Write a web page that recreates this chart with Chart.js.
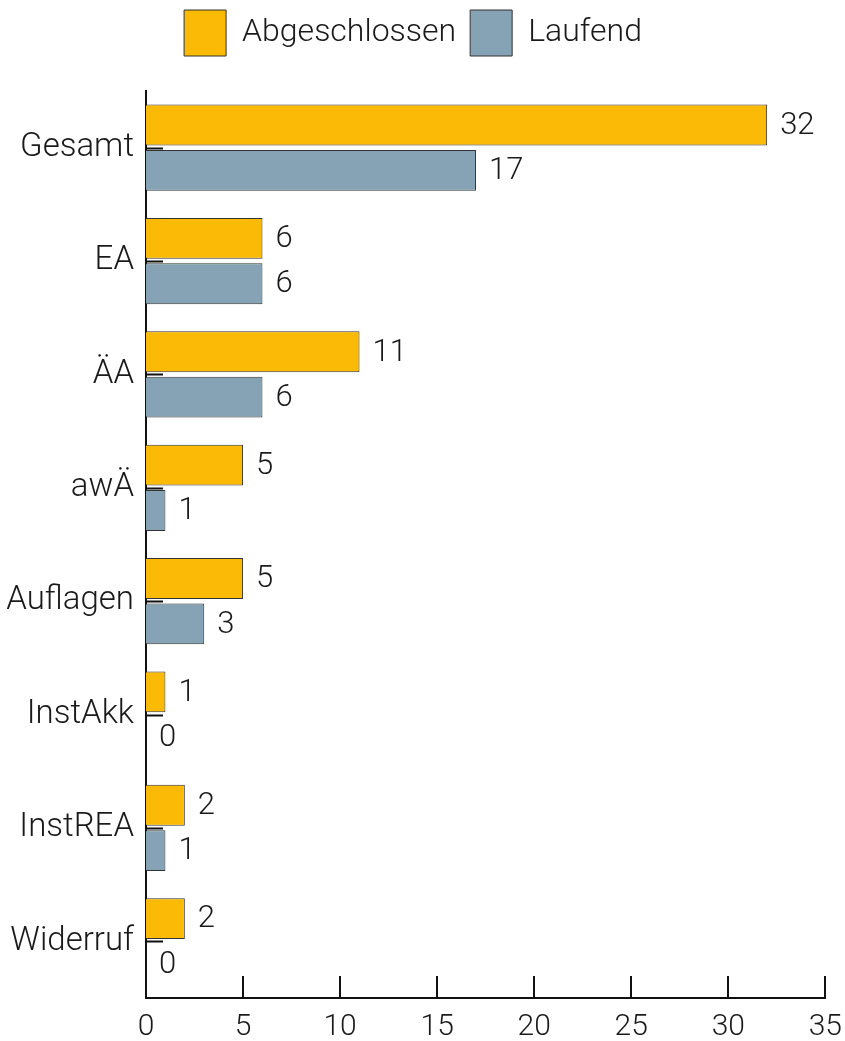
<!DOCTYPE html>
<html>
<head>
<meta charset="utf-8">
<script src="https://cdn.jsdelivr.net/npm/chart.js@4"></script>
<style>
  html, body { margin: 0; padding: 0; background: #fff; }
  #wrap { width: 845px; height: 1041px; position: relative; }
</style>
</head>
<body>
<div id="wrap"><canvas id="chart"></canvas></div>
<script>
// Kategorien und Werte
const categories = ['Gesamt', 'EA', 'ÄA', 'awÄ', 'Auflagen', 'InstAkk', 'InstREA', 'Widerruf'];
const abgeschlossen = [32, 6, 11, 5, 5, 1, 2, 2];
const laufend = [17, 6, 6, 1, 3, 0, 1, 0];
const xTicks = [0, 5, 10, 15, 20, 25, 30, 35];

const FONT = 'Roboto';
const INK = '#1a1a1a';

// Tick-Striche nach innen (ins Diagramm) zeichnen
const innerTicks = {
    id: 'innerTicks',
    beforeDatasetsDraw(chart) {
        const {ctx, chartArea, scales} = chart;
        ctx.save();
        ctx.strokeStyle = '#111';
        ctx.lineWidth = 2;
        ctx.beginPath();
        xTicks.forEach(v => {
            const x = Math.round(scales.x.getPixelForValue(v));
            ctx.moveTo(x, chartArea.bottom);
            ctx.lineTo(x, chartArea.bottom - 22);
        });
        categories.forEach((c, i) => {
            const y = Math.round(scales.y.getPixelForValue(i)) + 0.5;
            ctx.moveTo(chartArea.left, y);
            ctx.lineTo(chartArea.left + 17, y);
        });
        ctx.stroke();
        ctx.restore();
    }
};

// Werte rechts neben den Balken
const valueLabels = {
    id: 'valueLabels',
    afterDatasetsDraw(chart) {
        const {ctx} = chart;
        ctx.save();
        ctx.font = `300 31px ${FONT}`;
        ctx.fillStyle = INK;
        ctx.textAlign = 'left';
        ctx.textBaseline = 'middle';
        chart.data.datasets.forEach((ds, i) => {
            chart.getDatasetMeta(i).data.forEach((bar, j) => {
                ctx.fillText(String(ds.data[j]), bar.x + 13, bar.y + 1);
            });
        });
        ctx.restore();
    }
};

new Chart(document.getElementById('chart'), {
    type: 'bar',
    data: {
        labels: categories,
        datasets: [
            {
                label: 'Abgeschlossen',
                data: abgeschlossen,
                backgroundColor: '#fbba06',
                borderColor: '#333',
                borderWidth: 1,
                categoryPercentage: 0.8,
                barPercentage: 0.9
            },
            {
                label: 'Laufend',
                data: laufend,
                backgroundColor: '#85a3b5',
                borderColor: '#333',
                borderWidth: 1,
                categoryPercentage: 0.8,
                barPercentage: 0.9
            }
        ]
    },
    options: {
        indexAxis: 'y',
        responsive: true,
        maintainAspectRatio: false,
        animation: false,
        layout: {
            padding: {top: -4, right: 19, left: 0, bottom: 0}
        },
        plugins: {
            legend: {
                position: 'top',
                labels: {
                    boxWidth: 42,
                    boxHeight: 46,
                    padding: 14,
                    color: INK,
                    font: {family: FONT, size: 32, weight: '300'}
                }
            },
            // leerer Titel als Abstand zwischen Legende und Diagramm
            title: {
                display: true,
                text: '',
                position: 'top',
                weight: 500,
                font: {size: 1, lineHeight: 1},
                padding: {top: 0, bottom: 24}
            },
            tooltip: {enabled: false}
        },
        scales: {
            x: {
                min: 0,
                max: 35,
                afterFit: s => { s.height = 43; },
                afterBuildTicks: s => { s.ticks = xTicks.map(v => ({value: v})); },
                grid: {display: false},
                border: {display: true, color: '#111', width: 2},
                ticks: {
                    color: INK,
                    padding: 3,
                    font: {family: FONT, size: 30, weight: '300'}
                }
            },
            y: {
                afterFit: s => { s.width = 146; },
                grid: {display: false},
                border: {display: true, color: '#111', width: 2},
                ticks: {
                    color: INK,
                    padding: 4,
                    font: {family: FONT, size: 33, weight: '300'}
                }
            }
        }
    },
    plugins: [innerTicks, valueLabels]
});
</script>
</body>
</html>
